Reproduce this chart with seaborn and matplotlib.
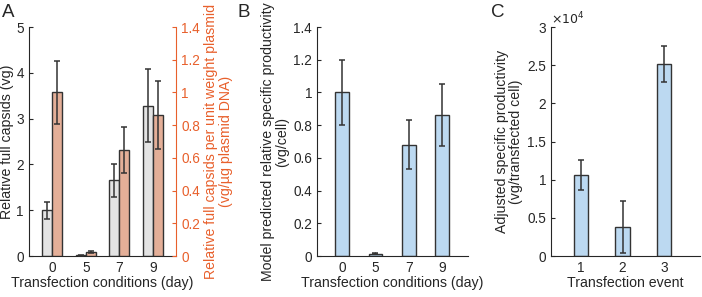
import numpy as np
import matplotlib
matplotlib.use("Agg")
import matplotlib.pyplot as plt
import seaborn as sns
from matplotlib.ticker import FuncFormatter

# 数据
days = ["0", "5", "7", "9"]
full_capsids = [1.0, 0.02, 1.65, 3.28]
full_capsids_err = [0.19, 0.01, 0.36, 0.80]
capsids_per_plasmid = [1.0, 0.022, 0.65, 0.862]
capsids_per_plasmid_err = [0.19, 0.006, 0.14, 0.21]

model_prod = [1.0, 0.015, 0.68, 0.86]
model_prod_err = [0.20, 0.005, 0.15, 0.19]

events = ["1", "2", "3"]
adj_prod = [10600, 3800, 25100]
adj_prod_err = [2000, 3350, 2350]

sns.set_style("ticks")
plt.rcParams['font.family'] = ['Liberation Sans', 'DejaVu Sans']
plt.rcParams['axes.linewidth'] = 0.8

TXT = '#262626'
GREY = '#e3e3e3'
SALMON = '#f1aa8b'
BLUE = '#bcd9f1'
ORANGE = '#e8602c'
EDGE = '#333333'
FS = 10.2
TFS = 9.8

fmt = FuncFormatter(lambda v, p: f"{v:g}")


def style_ax(ax):
    ax.tick_params(direction='in', length=3, colors=TXT, labelsize=TFS, width=0.8)
    for s in ['left', 'bottom']:
        ax.spines[s].set_color(TXT)
    ax.spines['top'].set_visible(False)
    ax.spines['right'].set_visible(False)
    ax.yaxis.set_major_formatter(fmt)
    ax.set_xlabel(ax.get_xlabel(), fontsize=FS, color=TXT, labelpad=1)


def add_err(ax, bars, vals, errs):
    xs = [b.get_x() + b.get_width() / 2 for b in bars]
    ax.errorbar(xs, vals, yerr=errs, fmt='none', ecolor=EDGE, elinewidth=1.1,
                capsize=2.5, capthick=1.1, zorder=5)


fig = plt.figure(figsize=(7.02, 2.97), dpi=100)
axA = fig.add_axes([0.041, 0.138, 0.21, 0.771])
axB = fig.add_axes([0.4516, 0.138, 0.2154, 0.771])
axC = fig.add_axes([0.785, 0.138, 0.212, 0.771])

# ---------- A ----------
sns.barplot(x=days, y=full_capsids, hue=["g"] * 4, hue_order=["g", "o"],
            palette={"g": GREY, "o": SALMON}, width=0.6, dodge=True,
            edgecolor=EDGE, linewidth=1.0, legend=False, ax=axA)
add_err(axA, axA.patches[:4], full_capsids, full_capsids_err)
axA2 = axA.twinx()
sns.barplot(x=days, y=capsids_per_plasmid, hue=["o"] * 4, hue_order=["g", "o"],
            palette={"g": GREY, "o": SALMON}, width=0.6, dodge=True,
            edgecolor=EDGE, linewidth=1.0, legend=False, ax=axA2)
add_err(axA2, axA2.patches[:4], capsids_per_plasmid, capsids_per_plasmid_err)
axA.set_ylim(0, 5)
axA2.set_ylim(0, 1.4)
axA.set_xlim(-0.7, 3.7)
axA.set_yticks(np.arange(0, 5.1, 1))
axA2.set_yticks(np.arange(0, 1.41, 0.2))
axA.set_xlabel("Transfection conditions (day)")
style_ax(axA)
axA.set_ylabel("Relative full capsids (vg)", fontsize=FS, color=TXT, labelpad=2)
axA2.yaxis.set_major_formatter(fmt)
axA2.tick_params(direction='in', length=3, colors=ORANGE, labelsize=TFS, width=0.8)
axA2.spines['right'].set_color(ORANGE)
axA2.spines['top'].set_visible(False)
axA2.spines['left'].set_visible(False)
axA2.spines['bottom'].set_visible(False)
axA2.set_ylabel("Relative full capsids per unit weight plasmid\n(vg/\u00b5g plasmid DNA)",
                fontsize=FS, color=ORANGE, labelpad=3, linespacing=1.05)

# ---------- B ----------
sns.barplot(x=days, y=model_prod, color=BLUE, saturation=1, width=0.41,
            edgecolor=EDGE, linewidth=1.0, ax=axB)
add_err(axB, axB.patches, model_prod, model_prod_err)
axB.set_ylim(0, 1.4)
axB.set_xlim(-0.75, 3.78)
axB.set_yticks(np.arange(0, 1.41, 0.2))
axB.set_xlabel("Transfection conditions (day)")
style_ax(axB)
axB.set_ylabel("Model predicted relative specific productivity\n(vg/cell)",
               fontsize=FS, color=TXT, labelpad=3, linespacing=1.05)

# ---------- C ----------
sns.barplot(x=events, y=adj_prod, color=BLUE, saturation=1, width=0.34,
            edgecolor=EDGE, linewidth=1.0, ax=axC)
add_err(axC, axC.patches, adj_prod, adj_prod_err)
axC.set_ylim(0, 30000)
axC.set_xlim(-0.71, 2.85)
axC.set_yticks(np.arange(0, 30001, 5000))
axC.set_xlabel("Transfection event")
style_ax(axC)
axC.yaxis.set_major_formatter(FuncFormatter(lambda v, p: f"{v / 1e4:g}"))
axC.text(0.0, 1.0, r"$\times10^{4}$", transform=axC.transAxes, fontsize=9,
         color=TXT, ha='left', va='bottom')
axC.set_ylabel("Adjusted specific productivity\n(vg/transfected cell)",
               fontsize=FS, color=TXT, labelpad=3, linespacing=1.05)

for lab, x in [("A", 0.003), ("B", 0.339), ("C", 0.700)]:
    fig.text(x, 0.985, lab, fontsize=13.5, color=TXT, ha='left', va='top')

fig.savefig("out.png", dpi=100)
